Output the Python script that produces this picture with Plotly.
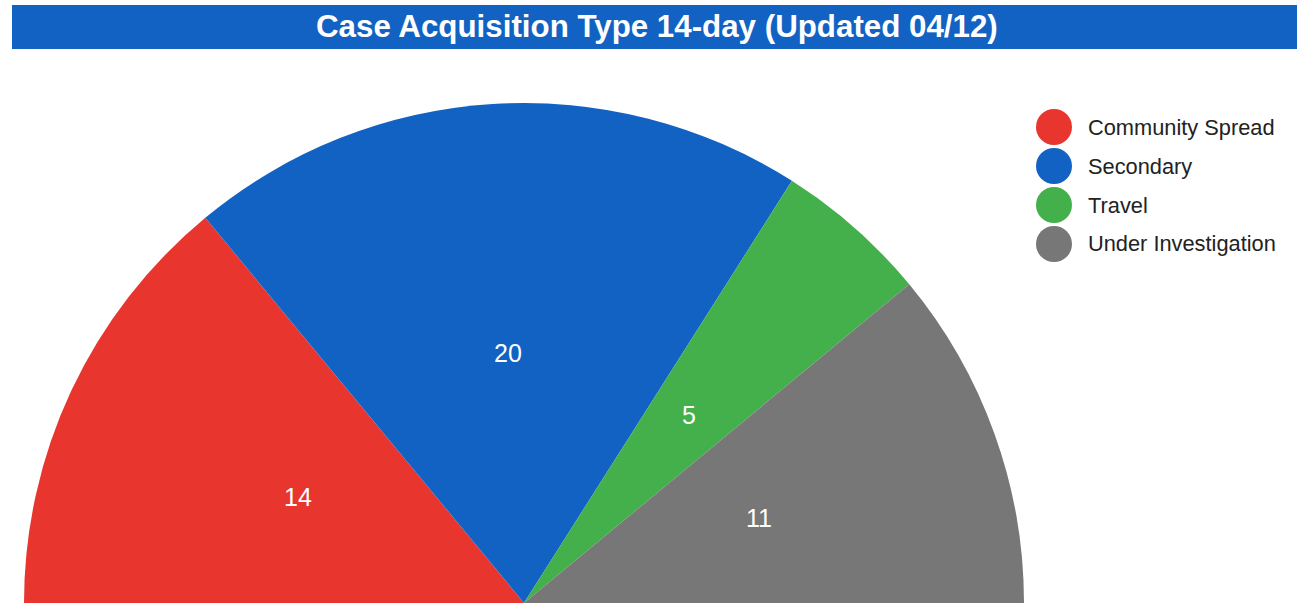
import math
import plotly.graph_objects as go

# ---- data ----
categories = ["Community Spread", "Secondary", "Travel", "Under Investigation"]
values = [14, 20, 5, 11]
colors = ["#E8362F", "#1262C4", "#43B04B", "#777777"]
title_text = "Case Acquisition Type 14-day (Updated 04/12)"

W, H = 1309, 1206  # page taller than the window: lower half of the pie is off-screen

def px_x(x):
    return x / W

def px_y(y):
    return 1 - y / H

# pie geometry (pixels)
CX, CY, R = 524, 603, 500

hidden = sum(values)  # invisible half so the visible part is a semicircle
pie_values = values + [hidden]
pie_colors = colors + ["rgba(0,0,0,0)"]

fig = go.Figure()
fig.add_trace(go.Pie(
    labels=categories + [" "],
    values=pie_values,
    textinfo="none",
    marker=dict(colors=pie_colors, line=dict(width=0)),
    sort=False,
    direction="clockwise",
    rotation=270,
    showlegend=False,
    hoverinfo="label+value",
    domain=dict(x=[px_x(CX - R), px_x(CX + R)], y=[px_y(CY + R), px_y(CY - R)]),
))

shapes = [dict(type="rect", xref="paper", yref="paper",
               x0=px_x(12), x1=px_x(1297), y0=px_y(49), y1=px_y(5),
               fillcolor="#1262C4", line=dict(width=0), layer="below")]
annotations = [dict(text=title_text, xref="paper", yref="paper",
                    x=px_x(657), y=px_y(27), xanchor="center", yanchor="middle",
                    showarrow=False,
                    font=dict(family="Liberation Sans, Arial, sans-serif",
                              size=31.3, color="white", weight="bold"))]

# slice value labels at half radius along each slice's mid-angle
total_full = sum(pie_values)
start = -90.0  # degrees clockwise from 12 o'clock
for v in values:
    span = 360.0 * v / total_full
    mid = math.radians(start + span / 2)
    lx = CX + 0.5 * R * math.sin(mid)
    ly = CY - 0.5 * R * math.cos(mid)
    annotations.append(dict(text=str(v), xref="paper", yref="paper",
                            x=px_x(lx), y=px_y(ly), xanchor="center", yanchor="middle",
                            showarrow=False,
                            font=dict(family="Liberation Sans, Arial, sans-serif", size=25, color="white")))
    start += span

for i, (cat, col) in enumerate(zip(categories, colors)):
    cy = 127 + 39 * i
    shapes.append(dict(type="circle", xref="paper", yref="paper",
                       x0=px_x(1036), x1=px_x(1072), y0=px_y(cy + 18), y1=px_y(cy - 18),
                       fillcolor=col, line=dict(width=0)))
    annotations.append(dict(text=cat, xref="paper", yref="paper",
                            x=px_x(1086), y=px_y(cy), xanchor="left", yanchor="middle",
                            showarrow=False,
                            font=dict(family="Liberation Sans, Arial, sans-serif", size=21.8, color="#222222")))

fig.update_layout(
    width=W, height=H,
    margin=dict(l=0, r=0, t=0, b=0),
    paper_bgcolor="white", plot_bgcolor="white",
    shapes=shapes, annotations=annotations,
)

fig.write_html("out.html", config={"displayModeBar": False},
               post_script="document.body.style.margin='0px';")
